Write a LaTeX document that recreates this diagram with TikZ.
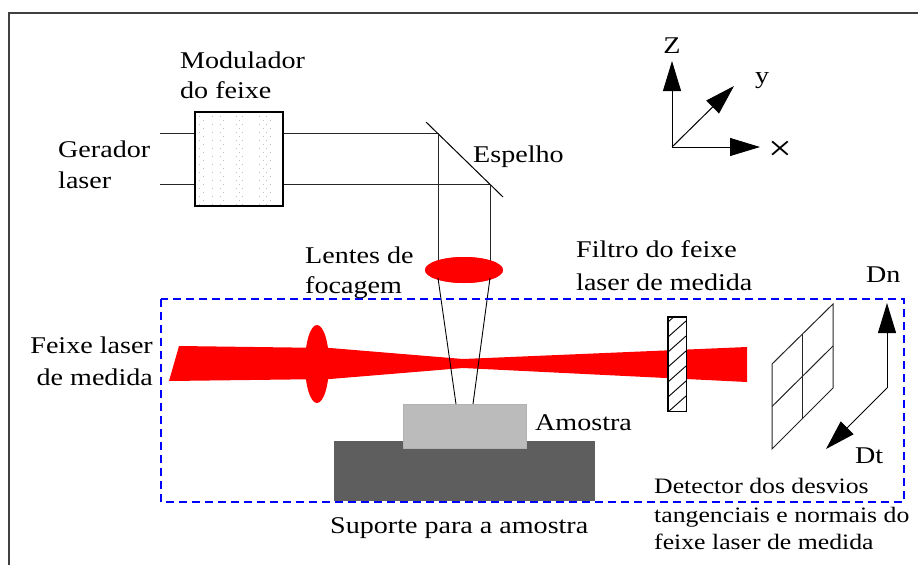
\documentclass[tikz,border=0pt]{standalone}
\usepackage{fontspec}
\setmainfont{Liberation Serif}[FakeStretch=1.17]
\usetikzlibrary{arrows.meta,shapes.geometric,calc}
\definecolor{samplegray}{HTML}{BBBBBB}
\definecolor{supportgray}{HTML}{5E5E5E}
\definecolor{boxblue}{HTML}{0000FF}
\tikzset{
  txt/.style={font=\fontsize{24}{30}\selectfont, inner sep=0pt, anchor=base west},
  smalltxt/.style={font=\fontsize{22}{28}\selectfont, inner sep=0pt, anchor=base west},
  ray/.style={line width=1pt, draw=black!85},
  bigtip/.style={-{Triangle[length=30pt,width=18pt]}, line width=1pt},
  modbox/.style={draw=black, line width=1.3pt, minimum width=88, minimum height=94, inner sep=0pt},
  lensshape/.style={ellipse, fill=red, inner sep=0pt},
}
\begin{document}
\begin{tikzpicture}[x=1pt,y=-1pt]
\useasboundingbox (0,0) rectangle (918,565);

% outer frame
\draw[line width=1.3pt, black!75] (9,565) -- (9,13) -- (918,13);

% beam modulator with its dotted texture
\node[modbox] (mod) at (239,159) {};
\foreach \cx in {199,212,220,236,242,259,266}
  \foreach \cy in {116,124,...,204}
    \fill[gray!50] (\cx,\cy) rectangle ++(1.3,1.3);
\foreach \cx in {203,223,239,263,270}
  \foreach \cy in {120,128,...,204}
    \fill[gray!50] (\cx,\cy) rectangle ++(1.3,1.3);

% laser generator output, mirror and the two rays down to the lens
\coordinate (genA) at (160,133);
\coordinate (genB) at (160,184);
\coordinate (mirA) at (438,133);
\coordinate (mirB) at (490,184);
\coordinate (mirTop) at (426,122);
\coordinate (mirBot) at (503,197);
\node[lensshape, minimum width=78, minimum height=26] (lens) at (464,270) {};
\draw[ray] (genA) -- (genA -| mod.west);
\draw[ray] (genB) -- (genB -| mod.west);
\draw[ray] (mod.east |- genA) -- (mirA);
\draw[ray] (mod.east |- genB) -- (mirB);
\draw[line width=1pt] (mirTop) -- (mirBot);
\draw[ray] (mirA) -- (mirA |- lens.center);
\draw[ray] (mirB) -- (mirB |- lens.center);
\node[lensshape, minimum width=78, minimum height=26] at (lens.center) {};

% sample holder and sample
\node[fill=supportgray, minimum width=261, minimum height=60, inner sep=0pt] (support) at (464.5,471) {};
\node[fill=samplegray, draw=black!30, line width=0.6pt, minimum width=123, minimum height=44, inner sep=0pt] (sample) at (464.5,426) {};

% measuring laser beam with its lens
\fill[red] (169,381) -- (179,346) -- (330,348) -- (463,359) -- (747,347)
  -- (747,382) -- (463,368) -- (330,379) -- cycle;
\node[lensshape, minimum width=24, minimum height=78] (mlens) at (317,364) {};

% focused rays onto the sample
\coordinate (focL) at (456,404);
\coordinate (focR) at (473,404);
\draw[line width=0.9pt] (438,278) -- (focL);
\draw[line width=0.9pt] (490,278) -- (focR);

% beam filter (hatched)
\node[draw=black, fill=white, line width=1pt, minimum width=18, minimum height=94, inner sep=0pt] (filter) at (677,364) {};
\begin{scope}
  \clip (filter.north west) rectangle (filter.south east);
  \foreach \hy in {322,337,...,442}
    \draw[line width=0.9pt] (668,\hy) -- (686,\hy-16);
\end{scope}
\draw[line width=1pt] (filter.north west) rectangle (filter.south east);

% quadrant detector
\coordinate (dBL) at (772,449);
\coordinate (dTL) at (772,364);
\coordinate (dTR) at (833,304);
\coordinate (dBR) at (833,388);
\draw[line width=1pt, black!85] (dBL) -- (dTL) -- (dTR) -- (dBR) -- cycle;
\draw[line width=1pt, black!85] ($(dTL)!0.5!(dTR)$) -- ($(dBL)!0.5!(dBR)$);
\draw[line width=1pt, black!85] ($(dTL)!0.5!(dBL)$) -- ($(dTR)!0.5!(dBR)$);

% deviation directions
\coordinate (dCorner) at (887,388);
\coordinate (dnTip) at (887,303);
\coordinate (dtTip) at (826,449);
\draw[bigtip] (dCorner) -- (dnTip);
\draw[bigtip] (dCorner) -- (dtTip);

% coordinate axes
\coordinate (ax0) at (672,147);
\coordinate (axZ) at (672,61);
\coordinate (axX) at (760,147);
\coordinate (axY) at (734,86);
\draw[bigtip] (ax0) -- (axZ);
\draw[bigtip] (ax0) -- (axX);
\draw[bigtip] (ax0) -- (axY);

% measuring region
\draw[boxblue, line width=1.6pt, dash pattern=on 8pt off 5pt] (161,299) rectangle (904,502);

% labels
\node[txt] (tMod1) at (180,68) {Modulador};
\node[txt] (tMod2) at (180,98) {do feixe};
\node[txt] (tGen1) at (58,157) {Gerador};
\node[txt] (tGen2) at (58,188) {laser};
\node[txt] (tMir) at (473,162) {Espelho};
\node[txt] (tLen1) at (305,263) {Lentes de};
\node[txt] (tLen2) at (305,293) {focagem};
\node[txt] (tFil1) at (576,257) {Filtro do feixe};
\node[txt] (tFil2) at (576,290) {laser de medida};
\node[txt, anchor=base east] (tBeam1) at (153,353) {Feixe laser};
\node[txt, anchor=base east] (tBeam2) at (153,385) {de medida};
\node[txt] (tSample) at (535,430) {Amostra};
\node[txt] (tSupport) at (330,533) {Suporte para a amostra};
\node[txt] (tDn) at (866,282) {Dn};
\node[txt] (tDt) at (855,463) {Dt};
\node[smalltxt] (tDet1) at (654,493) {Detector dos desvios};
\node[smalltxt] (tDet2) at (654,522) {tangenciais e normais do};
\node[smalltxt] (tDet3) at (654,549) {feixe laser de medida};
\node[txt, anchor=base] (tZ) at (672,53) {Z};
\node[txt] (tY) at (755,83) {y};
\node[txt, anchor=center, font=\fontsize{36}{36}\selectfont] (tX) at (780,151) {×};
\end{tikzpicture}
\end{document}
